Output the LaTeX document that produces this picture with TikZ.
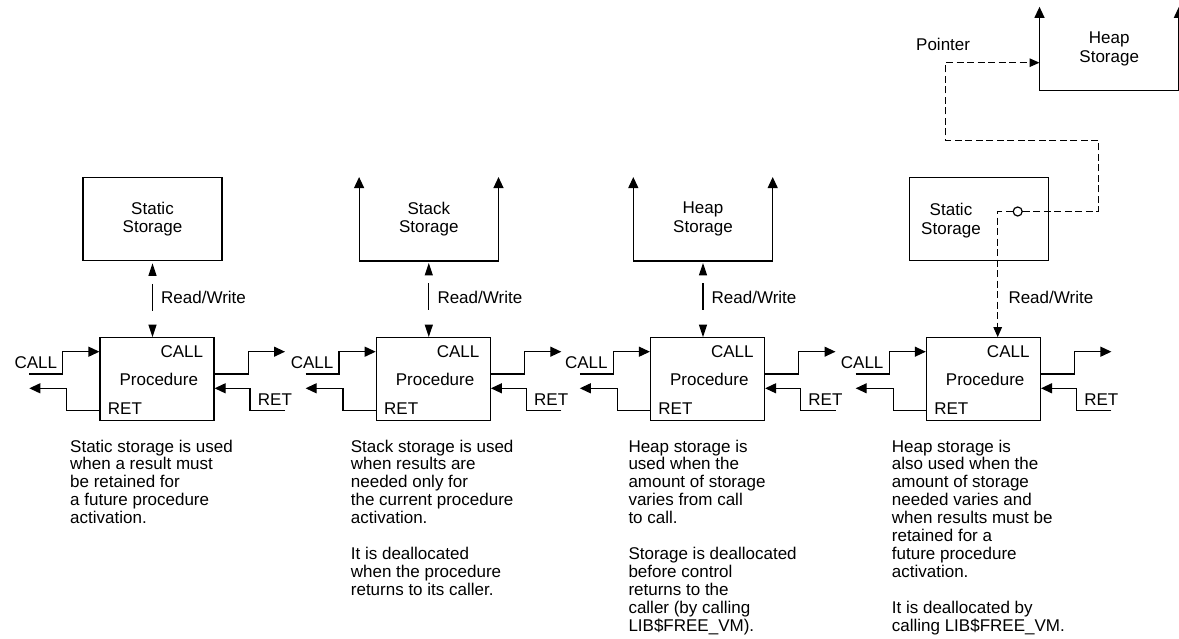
\documentclass[tikz,border=0pt]{standalone}
\usepackage{fontspec}
\setmainfont{Liberation Sans}
\usetikzlibrary{arrows.meta}
\tikzset{
  ln/.style={line width=1.2pt},
  wire/.style={ln,-{Triangle[length=11pt,width=10pt]}},
  bothtips/.style={ln,{Triangle[length=11pt,width=10pt]}-{Triangle[length=11pt,width=10pt]}},
  rw/.style={ln,{Triangle[length=12.5pt,width=8pt]}-{Triangle[length=12.5pt,width=8pt]},
    shorten <=2pt, dash pattern=on 27pt off 60pt, dash phase=78.7pt},
  dsh/.style={ln,dash pattern=on 7pt off 3.5pt,-{Triangle[length=10pt,width=8.5pt]}},
  lbl/.style={inner sep=0pt,font=\fontsize{17}{18.3}\selectfont},
  desc/.style={inner sep=0pt,anchor=north west,align=left,font=\fontsize{17}{17.9}\selectfont},
  procbox/.style={draw,ln,minimum width=114pt,minimum height=83pt,inner sep=0pt},
  stbox/.style={draw,ln,minimum width=139pt,minimum height=83.5pt,inner sep=0pt,align=center,font=\fontsize{17}{18.3}\selectfont},
  ustore/.style={minimum width=139pt,minimum height=83.5pt,inner sep=0pt,align=center,font=\fontsize{17}{18.3}\selectfont},
}
\newcommand\procpanel[2]{%
\begin{scope}[xshift=#1pt]
\node[procbox] (pr#2) at (157,379.2) {};
\node[lbl,anchor=base east] at (203.3,357.3) {CALL};
\node[lbl,anchor=base] at (158.8,385.5) {Procedure};
\node[lbl,anchor=base west] at (107.7,414) {RET};
\node[lbl,anchor=base west] (cl#2) at (14.3,368.7) {CALL};
\node[lbl,anchor=base west] (rt#2) at (257.7,405.7) {RET};
\coordinate (ci#2) at (29.3,374);
\coordinate (ro#2) at (29.3,388.3);
\coordinate (co#2) at (285,351.7);
\coordinate (ri#2) at (285,410.7);
\draw[wire] (ci#2) -- (62.7,374) |- (pr#2.west |- 0,351.7);
\draw[wire] (pr#2.west |- 0,410.7) -| (66.7,388.3) -- (ro#2);
\draw[wire] (pr#2.east |- 0,374) -| (248.3,351.7) -- (co#2);
\draw[wire] (ri#2) -| (250,388.3) -- (pr#2.east |- 0,388.3);
\end{scope}}
\begin{document}
\begin{tikzpicture}[x=1pt,y=-1pt]
\path[fill=white] (0,0) rectangle (1179,639);
\useasboundingbox (0,0) rectangle (1179,639);

% procedure panels
\procpanel{0}{1}
\procpanel{276.3}{2}
\procpanel{550.5}{3}
\procpanel{826.4}{4}

% panel 1: static storage
\node[stbox] (st1) at (152.5,219) {Static\\Storage};
\draw[rw] (st1.south) -- (st1.south |- pr1.north);
\node[lbl,anchor=base west] (rwl1) at (161,304) {Read/Write};

% panel 2: stack storage
\node[ustore] (st2) at (428.8,219) {Stack\\Storage};
\draw[bothtips] (st2.north west) -- (st2.south west) -- (st2.south east) -- (st2.north east);
\draw[rw] (st2.south) -- (st2.south |- pr2.north);
\node[lbl,anchor=base west] (rwl2) at (437.3,304) {Read/Write};

% panel 3: heap storage
\node[ustore] (st3) at (703,219) {Heap\\Storage};
\draw[bothtips] (st3.north west) -- (st3.south west) -- (st3.south east) -- (st3.north east);
\draw[rw] (st3.south) -- (st3.south |- pr3.north);
\node[lbl,anchor=base west] (rwl3) at (711.5,304) {Read/Write};

% panel 4: static storage with pointer to heap storage
\node[stbox] (st4) at (978.9,219) {};
\node[lbl,align=center] (st4t) at (951,220.5) {Static\\Storage};
\node[ustore] (hs) at (1109.2,48.8) {Heap\\Storage};
\draw[bothtips] (hs.north west) -- (hs.south west) -- (hs.south east) -- (hs.north east);
\node[circle,draw,ln,fill=white,minimum size=9pt,inner sep=0pt] (ptr) at (1017.7,211.5) {};
\coordinate (rw4) at (997.7,300);
\coordinate (pa) at (945.3,62.7);
\draw[dsh] (ptr.west) -| (rw4 |- pr4.north);
\draw[dsh] (ptr.east) -- (1098.3,211.5) -- (1098.3,140.3) -- (945.3,140.3) -- (pa) -- (pa -| hs.west);
\node[lbl,anchor=base west] (ptrl) at (916,50.7) {Pointer};
\node[lbl,anchor=base west] (rwl4) at (1008.3,304) {Read/Write};

% descriptions
\node[desc] (d1) at (70,439.5) {Static storage is used\\when a result must\\be retained for\\a future procedure\\activation.};
\node[desc] (d2) at (350.7,439.5) {Stack storage is used\\when results are\\needed only for\\the current procedure\\activation.\\[17.9pt]It is deallocated\\when the procedure\\returns to its caller.};
\node[desc] (d3) at (628.3,439.5) {Heap storage is\\used when the\\amount of storage\\varies from call\\to call.\\[17.9pt]Storage is deallocated\\before control\\returns to the\\caller (by calling\\LIB\$FREE\_VM).};
\node[desc] (d4) at (891.7,439.5) {Heap storage is\\also used when the\\amount of storage\\needed varies and\\when results must be\\retained for a\\future procedure\\activation.\\[17.9pt]It is deallocated by\\calling LIB\$FREE\_VM.};
\end{tikzpicture}
\end{document}
